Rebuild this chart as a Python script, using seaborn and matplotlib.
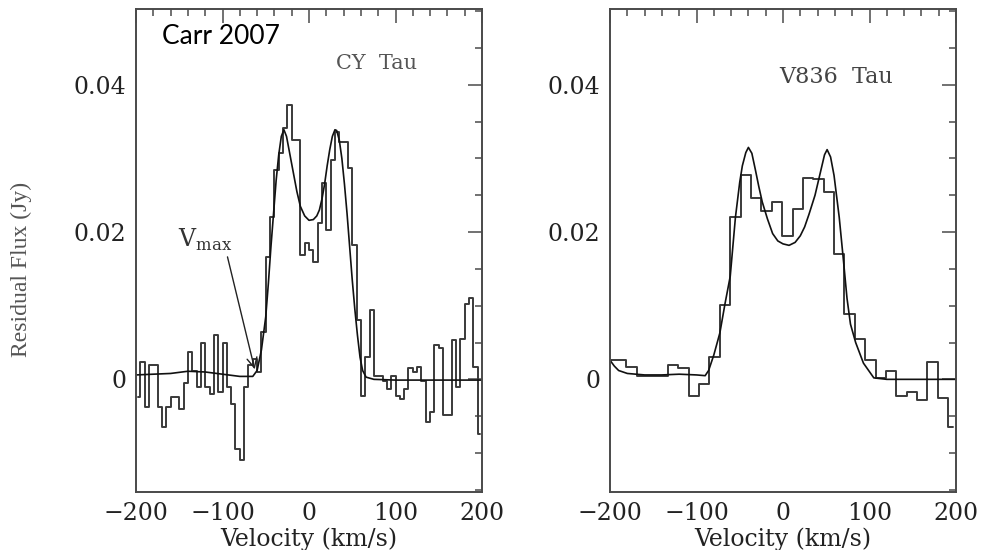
import matplotlib
matplotlib.use("Agg")
import matplotlib.pyplot as plt
import seaborn as sns
import numpy as np
import pandas as pd
from matplotlib.ticker import MultipleLocator, FixedLocator

# ---------------- data ----------------
# CY Tau observed residual flux (histogram, 5 km/s bins, bin centres)
cy_vel = [-197.5, -192.5, -187.5, -182.5, -177.5, -172.5, -167.5, -162.5, -157.5, -152.5,
          -147.5, -142.5, -137.5, -132.5, -127.5, -122.5, -117.5, -112.5, -107.5, -102.5,
          -97.5, -92.5, -87.5, -82.5, -77.5, -72.5, -67.5, -62.5, -57.5, -52.5,
          -47.5, -42.5, -37.5, -32.5, -27.5, -22.5, -17.5, -12.5, -7.5, -2.5,
          2.5, 7.5, 12.5, 17.5, 22.5, 27.5, 32.5, 37.5, 42.5, 47.5,
          52.5, 57.5, 62.5, 67.5, 72.5, 77.5, 82.5, 87.5, 92.5, 97.5,
          102.5, 107.5, 112.5, 117.5, 122.5, 127.5, 132.5, 137.5, 142.5, 147.5,
          152.5, 157.5, 162.5, 167.5, 172.5, 177.5, 182.5, 187.5, 192.5, 197.5]
cy_flux = [-0.0024, 0.0024, -0.0038, 0.0019, 0.0019, -0.0038, -0.0065, -0.0038, -0.0024, -0.0024,
           -0.0040, -0.0005, 0.0037, 0.0012, -0.0010, 0.0049, -0.0010, -0.0020, 0.0060, -0.0017,
           0.0049, -0.0010, -0.0033, -0.0094, -0.0110, -0.0010, 0.0020, 0.0028, 0.0010, 0.0064,
           0.0166, 0.0221, 0.0284, 0.0307, 0.0341, 0.0373, 0.0325, 0.0325, 0.0169, 0.0185,
           0.0176, 0.0160, 0.0213, 0.0266, 0.0203, 0.0298, 0.0336, 0.0323, 0.0323, 0.0287,
           0.0182, 0.0080, -0.0022, 0.0030, 0.0094, 0.0005, 0.0005, -0.0002, -0.0013, 0.0005,
           -0.0022, -0.0027, -0.0013, 0.0015, 0.0010, 0.0017, -0.0002, -0.0058, -0.0044, 0.0046,
           0.0042, -0.0049, -0.0049, 0.0053, -0.0010, 0.0055, 0.0103, 0.0110, 0.0017, -0.0074]

# CY Tau model curve
cy_model_vel = [-200, -180, -160, -140, -120, -100, -80, -65, -60, -55, -50, -47, -44, -41,
                -38, -35, -32, -29, -26, -22, -18, -14, -10, -5, 0, 5, 9, 12, 15, 18, 21,
                24, 27, 30, 32, 35, 38, 41, 44, 47, 50, 53, 56, 59, 62, 66, 75, 100, 150, 200]
cy_model_flux = [0.0006, 0.0007, 0.0008, 0.0011, 0.0010, 0.0007, 0.0004, 0.0004, 0.0012, 0.0040,
                 0.0085, 0.0130, 0.0180, 0.0225, 0.0270, 0.0305, 0.0330, 0.0339, 0.0330, 0.0305,
                 0.0280, 0.0255, 0.0235, 0.0222, 0.0216, 0.0217, 0.0222, 0.0230, 0.0245, 0.0265,
                 0.0290, 0.0312, 0.0330, 0.0339, 0.0338, 0.0325, 0.0300, 0.0265, 0.0225, 0.0180,
                 0.0135, 0.0095, 0.0060, 0.0030, 0.0012, 0.0003, 0.0000, -0.0001, -0.0001, -0.0001]

# V836 Tau observed residual flux (histogram, 12 km/s bins, bin centres)
v8_vel = [-199, -187, -175, -163, -151, -139, -127, -115, -103, -91, -79, -67, -55, -43, -31,
          -19, -7, 5, 17, 29, 41, 53, 65, 77, 89, 101, 113, 125, 137, 149, 161, 173, 185, 197]
v8_flux = [0.0026, 0.0026, 0.0017, 0.0005, 0.0005, 0.0005, 0.0019, 0.0015, -0.0022, -0.0006,
           0.0031, 0.0101, 0.0220, 0.0277, 0.0246, 0.0229, 0.0241, 0.0195, 0.0231, 0.0273,
           0.0272, 0.0255, 0.0170, 0.0089, 0.0055, 0.0026, 0.0002, 0.0012, -0.0022, -0.0017,
           -0.0028, 0.0024, -0.0025, -0.0065]

# V836 Tau model curve
v8_model_vel = [-200, -195, -190, -180, -160, -140, -120, -100, -90, -86, -80, -73, -67, -61,
                -55, -50, -47, -43, -40, -36, -32, -28, -24, -18, -12, -6, 0, 7, 14, 20, 25,
                30, 37, 43, 48, 51, 55, 59, 65, 70, 74, 78, 84, 93, 105, 120, 160, 200]
v8_model_flux = [0.0026, 0.0018, 0.0012, 0.0008, 0.0006, 0.0006, 0.0007, 0.0006, 0.0005, 0.0012,
                 0.0033, 0.0063, 0.0103, 0.0140, 0.0220, 0.0268, 0.0290, 0.0308, 0.0315, 0.0307,
                 0.0285, 0.0262, 0.0241, 0.0218, 0.0198, 0.0188, 0.0184, 0.0182, 0.0186, 0.0195,
                 0.0207, 0.0224, 0.0250, 0.0280, 0.0305, 0.0312, 0.0302, 0.0277, 0.0220, 0.0160,
                 0.0110, 0.0075, 0.0050, 0.0022, 0.0002, 0.0000, 0.0000, 0.0000]

panel_names = ["CY  Tau", "V836  Tau"]
x_label = "Velocity (km/s)"
y_label = "Residual Flux (Jy)"
y_ticks = [0.0, 0.02, 0.04]
y_tick_labels = ["0", "0.02", "0.04"]
x_ticks = [-200, -100, 0, 100, 200]

# ---------------- style ----------------
sns.set_style("white")
plt.rcParams["font.family"] = ["DejaVu Serif"]

W, H = 982, 550
fig = plt.figure(figsize=(W / 100, H / 100), dpi=100)

frame_col = "#4a4a4a"
hist_col = "#3a3a3a"


def make_axes(left_px):
    return fig.add_axes([left_px / W, (H - 492) / H, 346 / W, 483 / H])


ax1 = make_axes(136)
ax2 = make_axes(610)

obs_sets = [(cy_vel, cy_flux, cy_model_vel, cy_model_flux),
            (v8_vel, v8_flux, v8_model_vel, v8_model_flux)]

for ax, (ov, of, mv, mf), name in zip([ax1, ax2], obs_sets, panel_names):
    dfo = pd.DataFrame({"v": ov, "f": of})
    dfm = pd.DataFrame({"v": mv, "f": mf})
    sns.lineplot(data=dfo, x="v", y="f", ax=ax, drawstyle="steps-mid",
                 color=hist_col, lw=1.4, estimator=None, sort=False)
    sns.lineplot(data=dfm, x="v", y="f", ax=ax, color="#111111", lw=1.2,
                 estimator=None, sort=False)
    ax.set_xlim(-200, 200)
    ax.set_ylim(-0.0153, 0.0503)
    ax.xaxis.set_major_locator(FixedLocator(x_ticks))
    ax.xaxis.set_minor_locator(MultipleLocator(20))
    ax.yaxis.set_major_locator(FixedLocator(y_ticks))
    ax.set_yticklabels(y_tick_labels)
    ax.yaxis.set_minor_locator(MultipleLocator(0.005))
    ax.set_xticklabels([f"{t}".replace("-", "\u2212") for t in x_ticks])
    ax.tick_params(which="both", direction="in", top=True, right=True,
                   color=frame_col, width=1.1, labelsize=17, labelcolor="#222222")
    ax.tick_params(which="major", length=10, pad=7)
    ax.tick_params(which="minor", length=5)
    for s in ax.spines.values():
        s.set_color(frame_col)
        s.set_linewidth(1.4)
    ax.set_xlabel(x_label, fontsize=17, color="#222222", labelpad=2)
    ax.set_ylabel("")

ax1.set_ylabel(y_label, family="Liberation Serif", fontsize=17, color="#555555")
ax1.yaxis.set_label_coords(-0.30, 0.46)

ax1.text(78, 0.0429, panel_names[0], fontsize=15, color="#555555", ha="center", va="center")
ax2.text(61, 0.0410, panel_names[1], fontsize=16, color="#444444", ha="center", va="center")
ax1.text(-170, 0.0465, "Carr 2007", family="Lato", fontsize=19, color="black",
         ha="left", va="center")

ax1.annotate("", xy=(-62, 0.0010), xytext=(-95, 0.0170),
             arrowprops=dict(arrowstyle="->", color="#222222", lw=1.0,
                             mutation_scale=18))
ax1.text(-120, 0.0190, r"V$_{\mathregular{max}}$", fontsize=17, color="#333333",
         ha="center", va="center")

fig.savefig("out.png", dpi=100)
